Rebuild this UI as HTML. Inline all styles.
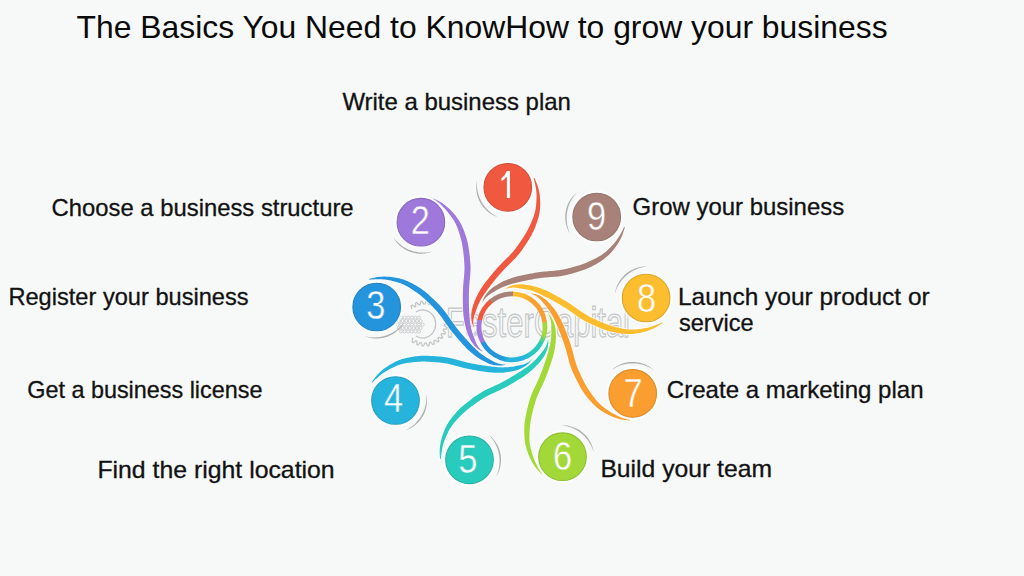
<!DOCTYPE html>
<html><head><meta charset="utf-8"><style>
html,body{margin:0;padding:0;background:#f7f9f9;}
body{width:1024px;height:576px;overflow:hidden;}
svg{display:block;}
</style></head><body>
<svg width="1024" height="576" viewBox="0 0 1024 576">
<defs><linearGradient id="rg4" gradientUnits="userSpaceOnUse" x1="522.42" y1="358.11" x2="500.17" y2="357.61"><stop offset="0" stop-color="#26b4dc"/><stop offset="0.6" stop-color="#26b4dc"/><stop offset="1" stop-color="#2494dc"/></linearGradient><linearGradient id="rg5" gradientUnits="userSpaceOnUse" x1="540.11" y1="344.09" x2="522.74" y2="358.00"><stop offset="0" stop-color="#28cbbc"/><stop offset="0.5" stop-color="#28cbbc"/><stop offset="1" stop-color="#26b4dc"/></linearGradient><linearGradient id="rg6" gradientUnits="userSpaceOnUse" x1="544.65" y1="321.98" x2="540.29" y2="343.80"><stop offset="0" stop-color="#a2d939"/><stop offset="0.55" stop-color="#a2d939"/><stop offset="1" stop-color="#28cbbc"/></linearGradient><linearGradient id="rg8" gradientUnits="userSpaceOnUse" x1="512.92" y1="293.81" x2="533.65" y2="301.89"><stop offset="0" stop-color="#fcbd2e"/><stop offset="0.35" stop-color="#fcbd2e"/><stop offset="1" stop-color="#fa9e30"/></linearGradient></defs>
<g fill="none" stroke="#c2c5c5" stroke-width="1.25">
<path d="M411.95,309.01 L410.99,305.90 L412.08,305.08 L414.79,306.89 L415.81,306.30 L415.62,303.05 L416.88,302.52 L419.08,304.92 L420.21,304.60 L420.81,301.39 L422.16,301.18 L423.71,304.04 L424.89,304.00 L426.24,301.03 L427.60,301.15 L428.42,304.30 L429.58,304.55 L431.60,301.99 L432.89,302.43 L432.93,305.69 L434.00,306.20 L436.57,304.20 L437.72,304.94 L436.98,308.11 L437.89,308.87 L440.87,307.55 L441.80,308.54 L440.32,311.44 L441.02,312.39 L444.23,311.82 L444.90,313.01 L442.77,315.47 L443.22,316.56 L446.47,316.78 L446.84,318.10 L444.18,319.97 L444.36,321.14 L447.46,322.14 L447.50,323.50 L444.46,324.68 L444.36,325.86 L447.13,327.57 L446.84,328.90 L443.61,329.32 L443.22,330.44 L445.50,332.76 L444.90,333.99 L441.67,333.62 L441.02,334.61 L442.68,337.42 L441.80,338.46 L438.75,337.33 L437.89,338.13 L438.82,341.26 L437.72,342.06 L435.03,340.22 L434.00,340.80 L434.15,344.05 L432.89,344.57 L430.72,342.14 L429.58,342.45 L428.95,345.65 L427.60,345.85 L426.07,342.97 L424.89,343.00 L423.51,345.95 L422.16,345.82 L421.37,342.66 L420.21,342.40 L418.17,344.94 L416.88,344.48 L416.87,341.23 L415.81,340.70 L413.22,342.67 L412.08,341.92 L412.85,338.76 L411.95,337.99"/>
<path d="M416,312 A13,14 0 1 1 416,336"/>
<circle cx="401.0" cy="317.5" r="1.5" stroke-width="0.8"/>
<circle cx="404.6" cy="317.5" r="1.5" stroke-width="0.8"/>
<circle cx="408.2" cy="317.5" r="1.5" stroke-width="0.8"/>
<circle cx="411.8" cy="317.5" r="1.5" stroke-width="0.8"/>
<circle cx="415.4" cy="317.5" r="1.5" stroke-width="0.8"/>
<circle cx="419.0" cy="317.5" r="1.5" stroke-width="0.8"/>
<circle cx="399.0" cy="321" r="1.5" stroke-width="0.8"/>
<circle cx="402.6" cy="321" r="1.5" stroke-width="0.8"/>
<circle cx="406.2" cy="321" r="1.5" stroke-width="0.8"/>
<circle cx="409.8" cy="321" r="1.5" stroke-width="0.8"/>
<circle cx="413.4" cy="321" r="1.5" stroke-width="0.8"/>
<circle cx="417.0" cy="321" r="1.5" stroke-width="0.8"/>
<circle cx="420.6" cy="321" r="1.5" stroke-width="0.8"/>
<circle cx="397.5" cy="324.5" r="1.5" stroke-width="0.8"/>
<circle cx="401.1" cy="324.5" r="1.5" stroke-width="0.8"/>
<circle cx="404.7" cy="324.5" r="1.5" stroke-width="0.8"/>
<circle cx="408.3" cy="324.5" r="1.5" stroke-width="0.8"/>
<circle cx="411.9" cy="324.5" r="1.5" stroke-width="0.8"/>
<circle cx="415.5" cy="324.5" r="1.5" stroke-width="0.8"/>
<circle cx="419.1" cy="324.5" r="1.5" stroke-width="0.8"/>
<circle cx="422.7" cy="324.5" r="1.5" stroke-width="0.8"/>
<circle cx="399.0" cy="328" r="1.5" stroke-width="0.8"/>
<circle cx="402.6" cy="328" r="1.5" stroke-width="0.8"/>
<circle cx="406.2" cy="328" r="1.5" stroke-width="0.8"/>
<circle cx="409.8" cy="328" r="1.5" stroke-width="0.8"/>
<circle cx="413.4" cy="328" r="1.5" stroke-width="0.8"/>
<circle cx="417.0" cy="328" r="1.5" stroke-width="0.8"/>
<circle cx="420.6" cy="328" r="1.5" stroke-width="0.8"/>
<circle cx="401.0" cy="331.5" r="1.5" stroke-width="0.8"/>
<circle cx="404.6" cy="331.5" r="1.5" stroke-width="0.8"/>
<circle cx="408.2" cy="331.5" r="1.5" stroke-width="0.8"/>
<circle cx="411.8" cy="331.5" r="1.5" stroke-width="0.8"/>
<circle cx="415.4" cy="331.5" r="1.5" stroke-width="0.8"/>
<circle cx="419.0" cy="331.5" r="1.5" stroke-width="0.8"/>
<text x="446" y="337" font-family="Liberation Sans" font-size="42.5" textLength="184" lengthAdjust="spacingAndGlyphs">FasterCapital</text>
</g>
<path d="M533.62,178.13 L533.96,179.40 L534.29,180.69 L534.62,182.01 L534.94,183.39 L535.25,184.80 L535.52,186.26 L535.80,187.72 L536.05,189.19 L536.24,190.67 L536.38,192.14 L536.48,193.61 L536.53,195.08 L536.55,196.56 L536.53,198.03 L536.48,199.51 L536.40,200.98 L536.30,202.46 L536.18,203.93 L536.05,205.38 L535.89,206.83 L535.69,208.26 L535.45,209.67 L535.17,211.06 L534.84,212.43 L534.47,213.78 L534.06,215.12 L533.61,216.44 L533.14,217.75 L532.63,219.04 L532.11,220.31 L531.59,221.55 L531.06,222.77 L530.54,223.95 L530.02,225.09 L529.49,226.21 L528.97,227.32 L528.45,228.43 L527.89,229.54 L527.30,230.68 L526.66,231.85 L525.96,233.05 L525.22,234.30 L524.43,235.58 L523.60,236.89 L522.74,238.23 L521.84,239.58 L520.93,240.93 L520.00,242.29 L519.06,243.65 L518.11,245.00 L517.14,246.34 L516.16,247.67 L515.15,249.00 L514.10,250.33 L513.00,251.65 L511.84,252.97 L510.63,254.29 L509.35,255.63 L508.02,256.98 L506.65,258.34 L505.26,259.71 L503.85,261.09 L502.46,262.48 L501.09,263.88 L499.74,265.29 L498.44,266.69 L497.17,268.10 L495.93,269.50 L494.71,270.90 L493.52,272.31 L492.34,273.72 L491.17,275.14 L490.00,276.56 L488.85,278.00 L487.70,279.44 L486.56,280.89 L485.44,282.35 L484.34,283.81 L483.27,285.27 L482.23,286.75 L481.26,288.25 L480.32,289.76 L479.41,291.28 L478.54,292.81 L477.70,294.36 L476.90,295.93 L476.13,297.53 L475.41,299.15 L474.73,300.80 L474.09,302.47 L473.50,304.14 L472.96,305.81 L472.47,307.46 L472.04,309.07 L471.66,310.63 L471.46,312.16 L471.32,313.62 L471.24,315.00 L471.21,316.31 L471.23,317.55 L471.29,318.73 L471.40,319.84 L471.56,320.90 L471.75,321.90 L471.98,322.85 L472.24,323.74 L472.51,324.57 L472.81,325.34 L473.11,326.07 L473.41,326.74 L473.70,327.38 L474.00,328.00 L474.00,328.00 L473.86,327.33 L473.73,326.64 L473.60,325.92 L473.49,325.17 L473.40,324.37 L473.33,323.53 L473.30,322.66 L473.31,321.75 L473.36,320.81 L473.45,319.83 L473.60,318.82 L473.80,317.77 L474.06,316.66 L474.38,315.51 L474.76,314.30 L475.21,313.03 L475.72,311.70 L476.17,310.28 L476.68,308.81 L477.25,307.31 L477.86,305.79 L478.52,304.27 L479.22,302.77 L479.96,301.29 L480.73,299.84 L481.53,298.41 L482.37,297.02 L483.25,295.64 L484.16,294.27 L485.11,292.91 L486.10,291.55 L487.11,290.19 L488.13,288.80 L489.16,287.40 L490.22,285.99 L491.31,284.58 L492.42,283.17 L493.54,281.77 L494.68,280.36 L495.82,278.97 L496.97,277.58 L498.13,276.20 L499.29,274.84 L500.47,273.48 L501.67,272.13 L502.89,270.79 L504.14,269.44 L505.43,268.10 L506.76,266.76 L508.12,265.40 L509.51,264.04 L510.91,262.66 L512.32,261.27 L513.71,259.87 L515.06,258.46 L516.37,257.03 L517.63,255.60 L518.82,254.17 L519.96,252.74 L521.04,251.32 L522.07,249.89 L523.06,248.47 L524.03,247.06 L524.97,245.65 L525.90,244.24 L526.81,242.83 L527.71,241.43 L528.58,240.03 L529.43,238.65 L530.24,237.29 L531.01,235.95 L531.73,234.64 L532.41,233.37 L533.04,232.12 L533.62,230.89 L534.17,229.68 L534.69,228.48 L535.16,227.26 L535.63,226.03 L536.09,224.77 L536.55,223.48 L537.01,222.15 L537.47,220.78 L537.91,219.37 L538.34,217.92 L538.73,216.45 L539.08,214.94 L539.39,213.42 L539.65,211.88 L539.86,210.33 L540.01,208.77 L540.13,207.22 L540.20,205.66 L540.24,204.11 L540.23,202.56 L540.18,201.01 L540.10,199.47 L539.99,197.92 L539.84,196.38 L539.66,194.84 L539.45,193.30 L539.18,191.76 L538.86,190.22 L538.50,188.70 L538.08,187.18 L537.62,185.70 L537.10,184.27 L536.55,182.88 L536.00,181.56 L535.45,180.29 L534.91,179.06 L534.38,177.87Z" fill="#f0583f" stroke="#ffffff" stroke-opacity="0.7" stroke-width="1.6" paint-order="stroke" transform="rotate(0 512.0 326.8)"/>
<path d="M533.62,178.13 L533.96,179.40 L534.29,180.69 L534.62,182.01 L534.94,183.39 L535.25,184.80 L535.52,186.26 L535.80,187.72 L536.05,189.19 L536.24,190.67 L536.38,192.14 L536.48,193.61 L536.53,195.08 L536.55,196.56 L536.53,198.03 L536.48,199.51 L536.40,200.98 L536.30,202.46 L536.18,203.93 L536.05,205.38 L535.89,206.83 L535.69,208.26 L535.45,209.67 L535.17,211.06 L534.84,212.43 L534.47,213.78 L534.06,215.12 L533.61,216.44 L533.14,217.75 L532.63,219.04 L532.11,220.31 L531.59,221.55 L531.06,222.77 L530.54,223.95 L530.02,225.09 L529.49,226.21 L528.97,227.32 L528.45,228.43 L527.89,229.54 L527.30,230.68 L526.66,231.85 L525.96,233.05 L525.22,234.30 L524.43,235.58 L523.60,236.89 L522.74,238.23 L521.84,239.58 L520.93,240.93 L520.00,242.29 L519.06,243.65 L518.11,245.00 L517.14,246.34 L516.16,247.67 L515.15,249.00 L514.10,250.33 L513.00,251.65 L511.84,252.97 L510.63,254.29 L509.35,255.63 L508.02,256.98 L506.65,258.34 L505.26,259.71 L503.85,261.09 L502.46,262.48 L501.09,263.88 L499.74,265.29 L498.44,266.69 L497.17,268.10 L495.93,269.50 L494.71,270.90 L493.52,272.31 L492.34,273.72 L491.17,275.14 L490.00,276.56 L488.85,278.00 L487.70,279.44 L486.56,280.89 L485.44,282.35 L484.34,283.81 L483.27,285.27 L482.23,286.75 L481.26,288.25 L480.32,289.76 L479.41,291.28 L478.54,292.81 L477.70,294.36 L476.90,295.93 L476.13,297.53 L475.41,299.15 L474.73,300.80 L474.09,302.47 L473.50,304.14 L472.96,305.81 L472.47,307.46 L472.04,309.07 L471.66,310.63 L471.46,312.16 L471.32,313.62 L471.24,315.00 L471.21,316.31 L471.23,317.55 L471.29,318.73 L471.40,319.84 L471.56,320.90 L471.75,321.90 L471.98,322.85 L472.24,323.74 L472.51,324.57 L472.81,325.34 L473.11,326.07 L473.41,326.74 L473.70,327.38 L474.00,328.00 L474.00,328.00 L473.86,327.33 L473.73,326.64 L473.60,325.92 L473.49,325.17 L473.40,324.37 L473.33,323.53 L473.30,322.66 L473.31,321.75 L473.36,320.81 L473.45,319.83 L473.60,318.82 L473.80,317.77 L474.06,316.66 L474.38,315.51 L474.76,314.30 L475.21,313.03 L475.72,311.70 L476.17,310.28 L476.68,308.81 L477.25,307.31 L477.86,305.79 L478.52,304.27 L479.22,302.77 L479.96,301.29 L480.73,299.84 L481.53,298.41 L482.37,297.02 L483.25,295.64 L484.16,294.27 L485.11,292.91 L486.10,291.55 L487.11,290.19 L488.13,288.80 L489.16,287.40 L490.22,285.99 L491.31,284.58 L492.42,283.17 L493.54,281.77 L494.68,280.36 L495.82,278.97 L496.97,277.58 L498.13,276.20 L499.29,274.84 L500.47,273.48 L501.67,272.13 L502.89,270.79 L504.14,269.44 L505.43,268.10 L506.76,266.76 L508.12,265.40 L509.51,264.04 L510.91,262.66 L512.32,261.27 L513.71,259.87 L515.06,258.46 L516.37,257.03 L517.63,255.60 L518.82,254.17 L519.96,252.74 L521.04,251.32 L522.07,249.89 L523.06,248.47 L524.03,247.06 L524.97,245.65 L525.90,244.24 L526.81,242.83 L527.71,241.43 L528.58,240.03 L529.43,238.65 L530.24,237.29 L531.01,235.95 L531.73,234.64 L532.41,233.37 L533.04,232.12 L533.62,230.89 L534.17,229.68 L534.69,228.48 L535.16,227.26 L535.63,226.03 L536.09,224.77 L536.55,223.48 L537.01,222.15 L537.47,220.78 L537.91,219.37 L538.34,217.92 L538.73,216.45 L539.08,214.94 L539.39,213.42 L539.65,211.88 L539.86,210.33 L540.01,208.77 L540.13,207.22 L540.20,205.66 L540.24,204.11 L540.23,202.56 L540.18,201.01 L540.10,199.47 L539.99,197.92 L539.84,196.38 L539.66,194.84 L539.45,193.30 L539.18,191.76 L538.86,190.22 L538.50,188.70 L538.08,187.18 L537.62,185.70 L537.10,184.27 L536.55,182.88 L536.00,181.56 L535.45,180.29 L534.91,179.06 L534.38,177.87Z" fill="#9e78da" stroke="#ffffff" stroke-opacity="0.7" stroke-width="1.6" paint-order="stroke" transform="rotate(-40 512.0 326.8)"/>
<path d="M533.62,178.13 L533.96,179.40 L534.29,180.69 L534.62,182.01 L534.94,183.39 L535.25,184.80 L535.52,186.26 L535.80,187.72 L536.05,189.19 L536.24,190.67 L536.38,192.14 L536.48,193.61 L536.53,195.08 L536.55,196.56 L536.53,198.03 L536.48,199.51 L536.40,200.98 L536.30,202.46 L536.18,203.93 L536.05,205.38 L535.89,206.83 L535.69,208.26 L535.45,209.67 L535.17,211.06 L534.84,212.43 L534.47,213.78 L534.06,215.12 L533.61,216.44 L533.14,217.75 L532.63,219.04 L532.11,220.31 L531.59,221.55 L531.06,222.77 L530.54,223.95 L530.02,225.09 L529.49,226.21 L528.97,227.32 L528.45,228.43 L527.89,229.54 L527.30,230.68 L526.66,231.85 L525.96,233.05 L525.22,234.30 L524.43,235.58 L523.60,236.89 L522.74,238.23 L521.84,239.58 L520.93,240.93 L520.00,242.29 L519.06,243.65 L518.11,245.00 L517.14,246.34 L516.16,247.67 L515.15,249.00 L514.10,250.33 L513.00,251.65 L511.84,252.97 L510.63,254.29 L509.35,255.63 L508.02,256.98 L506.65,258.34 L505.26,259.71 L503.85,261.09 L502.46,262.48 L501.09,263.88 L499.74,265.29 L498.44,266.69 L497.17,268.10 L495.93,269.50 L494.71,270.90 L493.52,272.31 L492.34,273.72 L491.17,275.14 L490.00,276.56 L488.85,278.00 L487.70,279.44 L486.56,280.89 L485.44,282.35 L484.34,283.81 L483.27,285.27 L482.23,286.75 L481.26,288.25 L480.32,289.76 L479.41,291.28 L478.54,292.81 L477.70,294.36 L476.90,295.93 L476.13,297.53 L475.41,299.15 L474.73,300.80 L474.09,302.47 L473.50,304.14 L472.96,305.81 L472.47,307.46 L472.04,309.07 L471.66,310.63 L471.46,312.16 L471.32,313.62 L471.24,315.00 L471.21,316.31 L471.23,317.55 L471.29,318.73 L471.40,319.84 L471.56,320.90 L471.75,321.90 L471.98,322.85 L472.24,323.74 L472.51,324.57 L472.81,325.34 L473.11,326.07 L473.41,326.74 L473.70,327.38 L474.00,328.00 L474.00,328.00 L473.86,327.33 L473.73,326.64 L473.60,325.92 L473.49,325.17 L473.40,324.37 L473.33,323.53 L473.30,322.66 L473.31,321.75 L473.36,320.81 L473.45,319.83 L473.60,318.82 L473.80,317.77 L474.06,316.66 L474.38,315.51 L474.76,314.30 L475.21,313.03 L475.72,311.70 L476.17,310.28 L476.68,308.81 L477.25,307.31 L477.86,305.79 L478.52,304.27 L479.22,302.77 L479.96,301.29 L480.73,299.84 L481.53,298.41 L482.37,297.02 L483.25,295.64 L484.16,294.27 L485.11,292.91 L486.10,291.55 L487.11,290.19 L488.13,288.80 L489.16,287.40 L490.22,285.99 L491.31,284.58 L492.42,283.17 L493.54,281.77 L494.68,280.36 L495.82,278.97 L496.97,277.58 L498.13,276.20 L499.29,274.84 L500.47,273.48 L501.67,272.13 L502.89,270.79 L504.14,269.44 L505.43,268.10 L506.76,266.76 L508.12,265.40 L509.51,264.04 L510.91,262.66 L512.32,261.27 L513.71,259.87 L515.06,258.46 L516.37,257.03 L517.63,255.60 L518.82,254.17 L519.96,252.74 L521.04,251.32 L522.07,249.89 L523.06,248.47 L524.03,247.06 L524.97,245.65 L525.90,244.24 L526.81,242.83 L527.71,241.43 L528.58,240.03 L529.43,238.65 L530.24,237.29 L531.01,235.95 L531.73,234.64 L532.41,233.37 L533.04,232.12 L533.62,230.89 L534.17,229.68 L534.69,228.48 L535.16,227.26 L535.63,226.03 L536.09,224.77 L536.55,223.48 L537.01,222.15 L537.47,220.78 L537.91,219.37 L538.34,217.92 L538.73,216.45 L539.08,214.94 L539.39,213.42 L539.65,211.88 L539.86,210.33 L540.01,208.77 L540.13,207.22 L540.20,205.66 L540.24,204.11 L540.23,202.56 L540.18,201.01 L540.10,199.47 L539.99,197.92 L539.84,196.38 L539.66,194.84 L539.45,193.30 L539.18,191.76 L538.86,190.22 L538.50,188.70 L538.08,187.18 L537.62,185.70 L537.10,184.27 L536.55,182.88 L536.00,181.56 L535.45,180.29 L534.91,179.06 L534.38,177.87Z" fill="#2494dc" stroke="#ffffff" stroke-opacity="0.7" stroke-width="1.6" paint-order="stroke" transform="rotate(-80 512.0 326.8)"/>
<path d="M533.62,178.13 L533.96,179.40 L534.29,180.69 L534.62,182.01 L534.94,183.39 L535.25,184.80 L535.52,186.26 L535.80,187.72 L536.05,189.19 L536.24,190.67 L536.38,192.14 L536.48,193.61 L536.53,195.08 L536.55,196.56 L536.53,198.03 L536.48,199.51 L536.40,200.98 L536.30,202.46 L536.18,203.93 L536.05,205.38 L535.89,206.83 L535.69,208.26 L535.45,209.67 L535.17,211.06 L534.84,212.43 L534.47,213.78 L534.06,215.12 L533.61,216.44 L533.14,217.75 L532.63,219.04 L532.11,220.31 L531.59,221.55 L531.06,222.77 L530.54,223.95 L530.02,225.09 L529.49,226.21 L528.97,227.32 L528.45,228.43 L527.89,229.54 L527.30,230.68 L526.66,231.85 L525.96,233.05 L525.22,234.30 L524.43,235.58 L523.60,236.89 L522.74,238.23 L521.84,239.58 L520.93,240.93 L520.00,242.29 L519.06,243.65 L518.11,245.00 L517.14,246.34 L516.16,247.67 L515.15,249.00 L514.10,250.33 L513.00,251.65 L511.84,252.97 L510.63,254.29 L509.35,255.63 L508.02,256.98 L506.65,258.34 L505.26,259.71 L503.85,261.09 L502.46,262.48 L501.09,263.88 L499.74,265.29 L498.44,266.69 L497.17,268.10 L495.93,269.50 L494.71,270.90 L493.52,272.31 L492.34,273.72 L491.17,275.14 L490.00,276.56 L488.85,278.00 L487.70,279.44 L486.56,280.89 L485.44,282.35 L484.34,283.81 L483.27,285.27 L482.23,286.75 L481.26,288.25 L480.32,289.76 L479.41,291.28 L478.54,292.81 L477.70,294.36 L476.90,295.93 L476.13,297.53 L475.41,299.15 L474.73,300.80 L474.09,302.47 L473.50,304.14 L472.96,305.81 L472.47,307.46 L472.04,309.07 L471.66,310.63 L471.46,312.16 L471.32,313.62 L471.24,315.00 L471.21,316.31 L471.23,317.55 L471.29,318.73 L471.40,319.84 L471.56,320.90 L471.75,321.90 L471.98,322.85 L472.24,323.74 L472.51,324.57 L472.81,325.34 L473.11,326.07 L473.41,326.74 L473.70,327.38 L474.00,328.00 L474.00,328.00 L473.86,327.33 L473.73,326.64 L473.60,325.92 L473.49,325.17 L473.40,324.37 L473.33,323.53 L473.30,322.66 L473.31,321.75 L473.36,320.81 L473.45,319.83 L473.60,318.82 L473.80,317.77 L474.06,316.66 L474.38,315.51 L474.76,314.30 L475.21,313.03 L475.72,311.70 L476.17,310.28 L476.68,308.81 L477.25,307.31 L477.86,305.79 L478.52,304.27 L479.22,302.77 L479.96,301.29 L480.73,299.84 L481.53,298.41 L482.37,297.02 L483.25,295.64 L484.16,294.27 L485.11,292.91 L486.10,291.55 L487.11,290.19 L488.13,288.80 L489.16,287.40 L490.22,285.99 L491.31,284.58 L492.42,283.17 L493.54,281.77 L494.68,280.36 L495.82,278.97 L496.97,277.58 L498.13,276.20 L499.29,274.84 L500.47,273.48 L501.67,272.13 L502.89,270.79 L504.14,269.44 L505.43,268.10 L506.76,266.76 L508.12,265.40 L509.51,264.04 L510.91,262.66 L512.32,261.27 L513.71,259.87 L515.06,258.46 L516.37,257.03 L517.63,255.60 L518.82,254.17 L519.96,252.74 L521.04,251.32 L522.07,249.89 L523.06,248.47 L524.03,247.06 L524.97,245.65 L525.90,244.24 L526.81,242.83 L527.71,241.43 L528.58,240.03 L529.43,238.65 L530.24,237.29 L531.01,235.95 L531.73,234.64 L532.41,233.37 L533.04,232.12 L533.62,230.89 L534.17,229.68 L534.69,228.48 L535.16,227.26 L535.63,226.03 L536.09,224.77 L536.55,223.48 L537.01,222.15 L537.47,220.78 L537.91,219.37 L538.34,217.92 L538.73,216.45 L539.08,214.94 L539.39,213.42 L539.65,211.88 L539.86,210.33 L540.01,208.77 L540.13,207.22 L540.20,205.66 L540.24,204.11 L540.23,202.56 L540.18,201.01 L540.10,199.47 L539.99,197.92 L539.84,196.38 L539.66,194.84 L539.45,193.30 L539.18,191.76 L538.86,190.22 L538.50,188.70 L538.08,187.18 L537.62,185.70 L537.10,184.27 L536.55,182.88 L536.00,181.56 L535.45,180.29 L534.91,179.06 L534.38,177.87Z" fill="#26b4dc" stroke="#ffffff" stroke-opacity="0.7" stroke-width="1.6" paint-order="stroke" transform="rotate(-120 512.0 326.8)"/>
<path d="M533.62,178.13 L533.96,179.40 L534.29,180.69 L534.62,182.01 L534.94,183.39 L535.25,184.80 L535.52,186.26 L535.80,187.72 L536.05,189.19 L536.24,190.67 L536.38,192.14 L536.48,193.61 L536.53,195.08 L536.55,196.56 L536.53,198.03 L536.48,199.51 L536.40,200.98 L536.30,202.46 L536.18,203.93 L536.05,205.38 L535.89,206.83 L535.69,208.26 L535.45,209.67 L535.17,211.06 L534.84,212.43 L534.47,213.78 L534.06,215.12 L533.61,216.44 L533.14,217.75 L532.63,219.04 L532.11,220.31 L531.59,221.55 L531.06,222.77 L530.54,223.95 L530.02,225.09 L529.49,226.21 L528.97,227.32 L528.45,228.43 L527.89,229.54 L527.30,230.68 L526.66,231.85 L525.96,233.05 L525.22,234.30 L524.43,235.58 L523.60,236.89 L522.74,238.23 L521.84,239.58 L520.93,240.93 L520.00,242.29 L519.06,243.65 L518.11,245.00 L517.14,246.34 L516.16,247.67 L515.15,249.00 L514.10,250.33 L513.00,251.65 L511.84,252.97 L510.63,254.29 L509.35,255.63 L508.02,256.98 L506.65,258.34 L505.26,259.71 L503.85,261.09 L502.46,262.48 L501.09,263.88 L499.74,265.29 L498.44,266.69 L497.17,268.10 L495.93,269.50 L494.71,270.90 L493.52,272.31 L492.34,273.72 L491.17,275.14 L490.00,276.56 L488.85,278.00 L487.70,279.44 L486.56,280.89 L485.44,282.35 L484.34,283.81 L483.27,285.27 L482.23,286.75 L481.26,288.25 L480.32,289.76 L479.41,291.28 L478.54,292.81 L477.70,294.36 L476.90,295.93 L476.13,297.53 L475.41,299.15 L474.73,300.80 L474.09,302.47 L473.50,304.14 L472.96,305.81 L472.47,307.46 L472.04,309.07 L471.66,310.63 L471.46,312.16 L471.32,313.62 L471.24,315.00 L471.21,316.31 L471.23,317.55 L471.29,318.73 L471.40,319.84 L471.56,320.90 L471.75,321.90 L471.98,322.85 L472.24,323.74 L472.51,324.57 L472.81,325.34 L473.11,326.07 L473.41,326.74 L473.70,327.38 L474.00,328.00 L474.00,328.00 L473.86,327.33 L473.73,326.64 L473.60,325.92 L473.49,325.17 L473.40,324.37 L473.33,323.53 L473.30,322.66 L473.31,321.75 L473.36,320.81 L473.45,319.83 L473.60,318.82 L473.80,317.77 L474.06,316.66 L474.38,315.51 L474.76,314.30 L475.21,313.03 L475.72,311.70 L476.17,310.28 L476.68,308.81 L477.25,307.31 L477.86,305.79 L478.52,304.27 L479.22,302.77 L479.96,301.29 L480.73,299.84 L481.53,298.41 L482.37,297.02 L483.25,295.64 L484.16,294.27 L485.11,292.91 L486.10,291.55 L487.11,290.19 L488.13,288.80 L489.16,287.40 L490.22,285.99 L491.31,284.58 L492.42,283.17 L493.54,281.77 L494.68,280.36 L495.82,278.97 L496.97,277.58 L498.13,276.20 L499.29,274.84 L500.47,273.48 L501.67,272.13 L502.89,270.79 L504.14,269.44 L505.43,268.10 L506.76,266.76 L508.12,265.40 L509.51,264.04 L510.91,262.66 L512.32,261.27 L513.71,259.87 L515.06,258.46 L516.37,257.03 L517.63,255.60 L518.82,254.17 L519.96,252.74 L521.04,251.32 L522.07,249.89 L523.06,248.47 L524.03,247.06 L524.97,245.65 L525.90,244.24 L526.81,242.83 L527.71,241.43 L528.58,240.03 L529.43,238.65 L530.24,237.29 L531.01,235.95 L531.73,234.64 L532.41,233.37 L533.04,232.12 L533.62,230.89 L534.17,229.68 L534.69,228.48 L535.16,227.26 L535.63,226.03 L536.09,224.77 L536.55,223.48 L537.01,222.15 L537.47,220.78 L537.91,219.37 L538.34,217.92 L538.73,216.45 L539.08,214.94 L539.39,213.42 L539.65,211.88 L539.86,210.33 L540.01,208.77 L540.13,207.22 L540.20,205.66 L540.24,204.11 L540.23,202.56 L540.18,201.01 L540.10,199.47 L539.99,197.92 L539.84,196.38 L539.66,194.84 L539.45,193.30 L539.18,191.76 L538.86,190.22 L538.50,188.70 L538.08,187.18 L537.62,185.70 L537.10,184.27 L536.55,182.88 L536.00,181.56 L535.45,180.29 L534.91,179.06 L534.38,177.87Z" fill="#28cbbc" stroke="#ffffff" stroke-opacity="0.7" stroke-width="1.6" paint-order="stroke" transform="rotate(-160 512.0 326.8)"/>
<path d="M533.62,178.13 L533.96,179.40 L534.29,180.69 L534.62,182.01 L534.94,183.39 L535.25,184.80 L535.52,186.26 L535.80,187.72 L536.05,189.19 L536.24,190.67 L536.38,192.14 L536.48,193.61 L536.53,195.08 L536.55,196.56 L536.53,198.03 L536.48,199.51 L536.40,200.98 L536.30,202.46 L536.18,203.93 L536.05,205.38 L535.89,206.83 L535.69,208.26 L535.45,209.67 L535.17,211.06 L534.84,212.43 L534.47,213.78 L534.06,215.12 L533.61,216.44 L533.14,217.75 L532.63,219.04 L532.11,220.31 L531.59,221.55 L531.06,222.77 L530.54,223.95 L530.02,225.09 L529.49,226.21 L528.97,227.32 L528.45,228.43 L527.89,229.54 L527.30,230.68 L526.66,231.85 L525.96,233.05 L525.22,234.30 L524.43,235.58 L523.60,236.89 L522.74,238.23 L521.84,239.58 L520.93,240.93 L520.00,242.29 L519.06,243.65 L518.11,245.00 L517.14,246.34 L516.16,247.67 L515.15,249.00 L514.10,250.33 L513.00,251.65 L511.84,252.97 L510.63,254.29 L509.35,255.63 L508.02,256.98 L506.65,258.34 L505.26,259.71 L503.85,261.09 L502.46,262.48 L501.09,263.88 L499.74,265.29 L498.44,266.69 L497.17,268.10 L495.93,269.50 L494.71,270.90 L493.52,272.31 L492.34,273.72 L491.17,275.14 L490.00,276.56 L488.85,278.00 L487.70,279.44 L486.56,280.89 L485.44,282.35 L484.34,283.81 L483.27,285.27 L482.23,286.75 L481.26,288.25 L480.32,289.76 L479.41,291.28 L478.54,292.81 L477.70,294.36 L476.90,295.93 L476.13,297.53 L475.41,299.15 L474.73,300.80 L474.09,302.47 L473.50,304.14 L472.96,305.81 L472.47,307.46 L472.04,309.07 L471.66,310.63 L471.46,312.16 L471.32,313.62 L471.24,315.00 L471.21,316.31 L471.23,317.55 L471.29,318.73 L471.40,319.84 L471.56,320.90 L471.75,321.90 L471.98,322.85 L472.24,323.74 L472.51,324.57 L472.81,325.34 L473.11,326.07 L473.41,326.74 L473.70,327.38 L474.00,328.00 L474.00,328.00 L473.86,327.33 L473.73,326.64 L473.60,325.92 L473.49,325.17 L473.40,324.37 L473.33,323.53 L473.30,322.66 L473.31,321.75 L473.36,320.81 L473.45,319.83 L473.60,318.82 L473.80,317.77 L474.06,316.66 L474.38,315.51 L474.76,314.30 L475.21,313.03 L475.72,311.70 L476.17,310.28 L476.68,308.81 L477.25,307.31 L477.86,305.79 L478.52,304.27 L479.22,302.77 L479.96,301.29 L480.73,299.84 L481.53,298.41 L482.37,297.02 L483.25,295.64 L484.16,294.27 L485.11,292.91 L486.10,291.55 L487.11,290.19 L488.13,288.80 L489.16,287.40 L490.22,285.99 L491.31,284.58 L492.42,283.17 L493.54,281.77 L494.68,280.36 L495.82,278.97 L496.97,277.58 L498.13,276.20 L499.29,274.84 L500.47,273.48 L501.67,272.13 L502.89,270.79 L504.14,269.44 L505.43,268.10 L506.76,266.76 L508.12,265.40 L509.51,264.04 L510.91,262.66 L512.32,261.27 L513.71,259.87 L515.06,258.46 L516.37,257.03 L517.63,255.60 L518.82,254.17 L519.96,252.74 L521.04,251.32 L522.07,249.89 L523.06,248.47 L524.03,247.06 L524.97,245.65 L525.90,244.24 L526.81,242.83 L527.71,241.43 L528.58,240.03 L529.43,238.65 L530.24,237.29 L531.01,235.95 L531.73,234.64 L532.41,233.37 L533.04,232.12 L533.62,230.89 L534.17,229.68 L534.69,228.48 L535.16,227.26 L535.63,226.03 L536.09,224.77 L536.55,223.48 L537.01,222.15 L537.47,220.78 L537.91,219.37 L538.34,217.92 L538.73,216.45 L539.08,214.94 L539.39,213.42 L539.65,211.88 L539.86,210.33 L540.01,208.77 L540.13,207.22 L540.20,205.66 L540.24,204.11 L540.23,202.56 L540.18,201.01 L540.10,199.47 L539.99,197.92 L539.84,196.38 L539.66,194.84 L539.45,193.30 L539.18,191.76 L538.86,190.22 L538.50,188.70 L538.08,187.18 L537.62,185.70 L537.10,184.27 L536.55,182.88 L536.00,181.56 L535.45,180.29 L534.91,179.06 L534.38,177.87Z" fill="#a2d939" stroke="#ffffff" stroke-opacity="0.7" stroke-width="1.6" paint-order="stroke" transform="rotate(-200 512.0 326.8)"/>
<path d="M533.62,178.13 L533.96,179.40 L534.29,180.69 L534.62,182.01 L534.94,183.39 L535.25,184.80 L535.52,186.26 L535.80,187.72 L536.05,189.19 L536.24,190.67 L536.38,192.14 L536.48,193.61 L536.53,195.08 L536.55,196.56 L536.53,198.03 L536.48,199.51 L536.40,200.98 L536.30,202.46 L536.18,203.93 L536.05,205.38 L535.89,206.83 L535.69,208.26 L535.45,209.67 L535.17,211.06 L534.84,212.43 L534.47,213.78 L534.06,215.12 L533.61,216.44 L533.14,217.75 L532.63,219.04 L532.11,220.31 L531.59,221.55 L531.06,222.77 L530.54,223.95 L530.02,225.09 L529.49,226.21 L528.97,227.32 L528.45,228.43 L527.89,229.54 L527.30,230.68 L526.66,231.85 L525.96,233.05 L525.22,234.30 L524.43,235.58 L523.60,236.89 L522.74,238.23 L521.84,239.58 L520.93,240.93 L520.00,242.29 L519.06,243.65 L518.11,245.00 L517.14,246.34 L516.16,247.67 L515.15,249.00 L514.10,250.33 L513.00,251.65 L511.84,252.97 L510.63,254.29 L509.35,255.63 L508.02,256.98 L506.65,258.34 L505.26,259.71 L503.85,261.09 L502.46,262.48 L501.09,263.88 L499.74,265.29 L498.44,266.69 L497.17,268.10 L495.93,269.50 L494.71,270.90 L493.52,272.31 L492.34,273.72 L491.17,275.14 L490.00,276.56 L488.85,278.00 L487.70,279.44 L486.56,280.89 L485.44,282.35 L484.34,283.81 L483.27,285.27 L482.23,286.75 L481.26,288.25 L480.32,289.76 L479.41,291.28 L478.54,292.81 L477.70,294.36 L476.90,295.93 L476.13,297.53 L475.41,299.15 L474.73,300.80 L474.09,302.47 L473.50,304.14 L472.96,305.81 L472.47,307.46 L472.04,309.07 L471.66,310.63 L471.46,312.16 L471.32,313.62 L471.24,315.00 L471.21,316.31 L471.23,317.55 L471.29,318.73 L471.40,319.84 L471.56,320.90 L471.75,321.90 L471.98,322.85 L472.24,323.74 L472.51,324.57 L472.81,325.34 L473.11,326.07 L473.41,326.74 L473.70,327.38 L474.00,328.00 L474.00,328.00 L473.86,327.33 L473.73,326.64 L473.60,325.92 L473.49,325.17 L473.40,324.37 L473.33,323.53 L473.30,322.66 L473.31,321.75 L473.36,320.81 L473.45,319.83 L473.60,318.82 L473.80,317.77 L474.06,316.66 L474.38,315.51 L474.76,314.30 L475.21,313.03 L475.72,311.70 L476.17,310.28 L476.68,308.81 L477.25,307.31 L477.86,305.79 L478.52,304.27 L479.22,302.77 L479.96,301.29 L480.73,299.84 L481.53,298.41 L482.37,297.02 L483.25,295.64 L484.16,294.27 L485.11,292.91 L486.10,291.55 L487.11,290.19 L488.13,288.80 L489.16,287.40 L490.22,285.99 L491.31,284.58 L492.42,283.17 L493.54,281.77 L494.68,280.36 L495.82,278.97 L496.97,277.58 L498.13,276.20 L499.29,274.84 L500.47,273.48 L501.67,272.13 L502.89,270.79 L504.14,269.44 L505.43,268.10 L506.76,266.76 L508.12,265.40 L509.51,264.04 L510.91,262.66 L512.32,261.27 L513.71,259.87 L515.06,258.46 L516.37,257.03 L517.63,255.60 L518.82,254.17 L519.96,252.74 L521.04,251.32 L522.07,249.89 L523.06,248.47 L524.03,247.06 L524.97,245.65 L525.90,244.24 L526.81,242.83 L527.71,241.43 L528.58,240.03 L529.43,238.65 L530.24,237.29 L531.01,235.95 L531.73,234.64 L532.41,233.37 L533.04,232.12 L533.62,230.89 L534.17,229.68 L534.69,228.48 L535.16,227.26 L535.63,226.03 L536.09,224.77 L536.55,223.48 L537.01,222.15 L537.47,220.78 L537.91,219.37 L538.34,217.92 L538.73,216.45 L539.08,214.94 L539.39,213.42 L539.65,211.88 L539.86,210.33 L540.01,208.77 L540.13,207.22 L540.20,205.66 L540.24,204.11 L540.23,202.56 L540.18,201.01 L540.10,199.47 L539.99,197.92 L539.84,196.38 L539.66,194.84 L539.45,193.30 L539.18,191.76 L538.86,190.22 L538.50,188.70 L538.08,187.18 L537.62,185.70 L537.10,184.27 L536.55,182.88 L536.00,181.56 L535.45,180.29 L534.91,179.06 L534.38,177.87Z" fill="#fa9e30" stroke="#ffffff" stroke-opacity="0.7" stroke-width="1.6" paint-order="stroke" transform="rotate(-240 512.0 326.8)"/>
<path d="M533.62,178.13 L533.96,179.40 L534.29,180.69 L534.62,182.01 L534.94,183.39 L535.25,184.80 L535.52,186.26 L535.80,187.72 L536.05,189.19 L536.24,190.67 L536.38,192.14 L536.48,193.61 L536.53,195.08 L536.55,196.56 L536.53,198.03 L536.48,199.51 L536.40,200.98 L536.30,202.46 L536.18,203.93 L536.05,205.38 L535.89,206.83 L535.69,208.26 L535.45,209.67 L535.17,211.06 L534.84,212.43 L534.47,213.78 L534.06,215.12 L533.61,216.44 L533.14,217.75 L532.63,219.04 L532.11,220.31 L531.59,221.55 L531.06,222.77 L530.54,223.95 L530.02,225.09 L529.49,226.21 L528.97,227.32 L528.45,228.43 L527.89,229.54 L527.30,230.68 L526.66,231.85 L525.96,233.05 L525.22,234.30 L524.43,235.58 L523.60,236.89 L522.74,238.23 L521.84,239.58 L520.93,240.93 L520.00,242.29 L519.06,243.65 L518.11,245.00 L517.14,246.34 L516.16,247.67 L515.15,249.00 L514.10,250.33 L513.00,251.65 L511.84,252.97 L510.63,254.29 L509.35,255.63 L508.02,256.98 L506.65,258.34 L505.26,259.71 L503.85,261.09 L502.46,262.48 L501.09,263.88 L499.74,265.29 L498.44,266.69 L497.17,268.10 L495.93,269.50 L494.71,270.90 L493.52,272.31 L492.34,273.72 L491.17,275.14 L490.00,276.56 L488.85,278.00 L487.70,279.44 L486.56,280.89 L485.44,282.35 L484.34,283.81 L483.27,285.27 L482.23,286.75 L481.26,288.25 L480.32,289.76 L479.41,291.28 L478.54,292.81 L477.70,294.36 L476.90,295.93 L476.13,297.53 L475.41,299.15 L474.73,300.80 L474.09,302.47 L473.50,304.14 L472.96,305.81 L472.47,307.46 L472.04,309.07 L471.66,310.63 L471.46,312.16 L471.32,313.62 L471.24,315.00 L471.21,316.31 L471.23,317.55 L471.29,318.73 L471.40,319.84 L471.56,320.90 L471.75,321.90 L471.98,322.85 L472.24,323.74 L472.51,324.57 L472.81,325.34 L473.11,326.07 L473.41,326.74 L473.70,327.38 L474.00,328.00 L474.00,328.00 L473.86,327.33 L473.73,326.64 L473.60,325.92 L473.49,325.17 L473.40,324.37 L473.33,323.53 L473.30,322.66 L473.31,321.75 L473.36,320.81 L473.45,319.83 L473.60,318.82 L473.80,317.77 L474.06,316.66 L474.38,315.51 L474.76,314.30 L475.21,313.03 L475.72,311.70 L476.17,310.28 L476.68,308.81 L477.25,307.31 L477.86,305.79 L478.52,304.27 L479.22,302.77 L479.96,301.29 L480.73,299.84 L481.53,298.41 L482.37,297.02 L483.25,295.64 L484.16,294.27 L485.11,292.91 L486.10,291.55 L487.11,290.19 L488.13,288.80 L489.16,287.40 L490.22,285.99 L491.31,284.58 L492.42,283.17 L493.54,281.77 L494.68,280.36 L495.82,278.97 L496.97,277.58 L498.13,276.20 L499.29,274.84 L500.47,273.48 L501.67,272.13 L502.89,270.79 L504.14,269.44 L505.43,268.10 L506.76,266.76 L508.12,265.40 L509.51,264.04 L510.91,262.66 L512.32,261.27 L513.71,259.87 L515.06,258.46 L516.37,257.03 L517.63,255.60 L518.82,254.17 L519.96,252.74 L521.04,251.32 L522.07,249.89 L523.06,248.47 L524.03,247.06 L524.97,245.65 L525.90,244.24 L526.81,242.83 L527.71,241.43 L528.58,240.03 L529.43,238.65 L530.24,237.29 L531.01,235.95 L531.73,234.64 L532.41,233.37 L533.04,232.12 L533.62,230.89 L534.17,229.68 L534.69,228.48 L535.16,227.26 L535.63,226.03 L536.09,224.77 L536.55,223.48 L537.01,222.15 L537.47,220.78 L537.91,219.37 L538.34,217.92 L538.73,216.45 L539.08,214.94 L539.39,213.42 L539.65,211.88 L539.86,210.33 L540.01,208.77 L540.13,207.22 L540.20,205.66 L540.24,204.11 L540.23,202.56 L540.18,201.01 L540.10,199.47 L539.99,197.92 L539.84,196.38 L539.66,194.84 L539.45,193.30 L539.18,191.76 L538.86,190.22 L538.50,188.70 L538.08,187.18 L537.62,185.70 L537.10,184.27 L536.55,182.88 L536.00,181.56 L535.45,180.29 L534.91,179.06 L534.38,177.87Z" fill="#fcbd2e" stroke="#ffffff" stroke-opacity="0.7" stroke-width="1.6" paint-order="stroke" transform="rotate(-280 512.0 326.8)"/>
<path d="M533.62,178.13 L533.96,179.40 L534.29,180.69 L534.62,182.01 L534.94,183.39 L535.25,184.80 L535.52,186.26 L535.80,187.72 L536.05,189.19 L536.24,190.67 L536.38,192.14 L536.48,193.61 L536.53,195.08 L536.55,196.56 L536.53,198.03 L536.48,199.51 L536.40,200.98 L536.30,202.46 L536.18,203.93 L536.05,205.38 L535.89,206.83 L535.69,208.26 L535.45,209.67 L535.17,211.06 L534.84,212.43 L534.47,213.78 L534.06,215.12 L533.61,216.44 L533.14,217.75 L532.63,219.04 L532.11,220.31 L531.59,221.55 L531.06,222.77 L530.54,223.95 L530.02,225.09 L529.49,226.21 L528.97,227.32 L528.45,228.43 L527.89,229.54 L527.30,230.68 L526.66,231.85 L525.96,233.05 L525.22,234.30 L524.43,235.58 L523.60,236.89 L522.74,238.23 L521.84,239.58 L520.93,240.93 L520.00,242.29 L519.06,243.65 L518.11,245.00 L517.14,246.34 L516.16,247.67 L515.15,249.00 L514.10,250.33 L513.00,251.65 L511.84,252.97 L510.63,254.29 L509.35,255.63 L508.02,256.98 L506.65,258.34 L505.26,259.71 L503.85,261.09 L502.46,262.48 L501.09,263.88 L499.74,265.29 L498.44,266.69 L497.17,268.10 L495.93,269.50 L494.71,270.90 L493.52,272.31 L492.34,273.72 L491.17,275.14 L490.00,276.56 L488.85,278.00 L487.70,279.44 L486.56,280.89 L485.44,282.35 L484.34,283.81 L483.27,285.27 L482.23,286.75 L481.26,288.25 L480.32,289.76 L479.41,291.28 L478.54,292.81 L477.70,294.36 L476.90,295.93 L476.13,297.53 L475.41,299.15 L474.73,300.80 L474.09,302.47 L473.50,304.14 L472.96,305.81 L472.47,307.46 L472.04,309.07 L471.66,310.63 L471.46,312.16 L471.32,313.62 L471.24,315.00 L471.21,316.31 L471.23,317.55 L471.29,318.73 L471.40,319.84 L471.56,320.90 L471.75,321.90 L471.98,322.85 L472.24,323.74 L472.51,324.57 L472.81,325.34 L473.11,326.07 L473.41,326.74 L473.70,327.38 L474.00,328.00 L474.00,328.00 L473.86,327.33 L473.73,326.64 L473.60,325.92 L473.49,325.17 L473.40,324.37 L473.33,323.53 L473.30,322.66 L473.31,321.75 L473.36,320.81 L473.45,319.83 L473.60,318.82 L473.80,317.77 L474.06,316.66 L474.38,315.51 L474.76,314.30 L475.21,313.03 L475.72,311.70 L476.17,310.28 L476.68,308.81 L477.25,307.31 L477.86,305.79 L478.52,304.27 L479.22,302.77 L479.96,301.29 L480.73,299.84 L481.53,298.41 L482.37,297.02 L483.25,295.64 L484.16,294.27 L485.11,292.91 L486.10,291.55 L487.11,290.19 L488.13,288.80 L489.16,287.40 L490.22,285.99 L491.31,284.58 L492.42,283.17 L493.54,281.77 L494.68,280.36 L495.82,278.97 L496.97,277.58 L498.13,276.20 L499.29,274.84 L500.47,273.48 L501.67,272.13 L502.89,270.79 L504.14,269.44 L505.43,268.10 L506.76,266.76 L508.12,265.40 L509.51,264.04 L510.91,262.66 L512.32,261.27 L513.71,259.87 L515.06,258.46 L516.37,257.03 L517.63,255.60 L518.82,254.17 L519.96,252.74 L521.04,251.32 L522.07,249.89 L523.06,248.47 L524.03,247.06 L524.97,245.65 L525.90,244.24 L526.81,242.83 L527.71,241.43 L528.58,240.03 L529.43,238.65 L530.24,237.29 L531.01,235.95 L531.73,234.64 L532.41,233.37 L533.04,232.12 L533.62,230.89 L534.17,229.68 L534.69,228.48 L535.16,227.26 L535.63,226.03 L536.09,224.77 L536.55,223.48 L537.01,222.15 L537.47,220.78 L537.91,219.37 L538.34,217.92 L538.73,216.45 L539.08,214.94 L539.39,213.42 L539.65,211.88 L539.86,210.33 L540.01,208.77 L540.13,207.22 L540.20,205.66 L540.24,204.11 L540.23,202.56 L540.18,201.01 L540.10,199.47 L539.99,197.92 L539.84,196.38 L539.66,194.84 L539.45,193.30 L539.18,191.76 L538.86,190.22 L538.50,188.70 L538.08,187.18 L537.62,185.70 L537.10,184.27 L536.55,182.88 L536.00,181.56 L535.45,180.29 L534.91,179.06 L534.38,177.87Z" fill="#a88278" stroke="#ffffff" stroke-opacity="0.7" stroke-width="1.6" paint-order="stroke" transform="rotate(-320 512.0 326.8)"/>
<path d="M479.60,320.56 A33.0,33.0 0 0 1 491.55,300.90" fill="none" stroke="#f0583f" stroke-width="4.7"/>
<path d="M483.17,342.85 A33.0,33.0 0 0 1 479.69,320.11" fill="none" stroke="#9e78da" stroke-width="4.7"/>
<path d="M500.23,357.63 A33.0,33.0 0 0 1 482.94,342.44" fill="none" stroke="#2494dc" stroke-width="4.7"/>
<path d="M522.80,357.98 A33.0,33.0 0 0 1 499.80,357.46" fill="none" stroke="url(#rg4)" stroke-width="4.7"/>
<path d="M540.32,343.75 A33.0,33.0 0 0 1 522.36,358.13" fill="none" stroke="url(#rg5)" stroke-width="4.7"/>
<path d="M544.58,321.58 A33.0,33.0 0 0 1 540.08,344.14" fill="none" stroke="url(#rg6)" stroke-width="4.7"/>
<path d="M533.61,301.86 A33.0,33.0 0 0 1 544.65,322.04" fill="none" stroke="#fa9e30" stroke-width="4.7"/>
<path d="M512.52,293.80 A33.0,33.0 0 0 1 533.95,302.16" fill="none" stroke="url(#rg8)" stroke-width="4.7"/>
<path d="M491.19,301.19 A33.0,33.0 0 0 1 512.98,293.81" fill="none" stroke="#a88278" stroke-width="4.7"/>
<path d="M497.96,217.22 L496.15,216.57 L494.39,215.80 L492.67,214.93 L491.01,213.96 L489.42,212.88 L487.89,211.71 L486.44,210.45 L485.06,209.10 L483.78,207.67 L482.58,206.17 L481.47,204.59 L480.47,202.95 L479.56,201.26 L478.76,199.51 L478.07,197.71 L477.49,195.88 L477.02,194.01 L476.67,192.12 L476.43,190.21 L476.32,188.29 L476.31,186.37 L476.43,184.45 L476.66,182.54 L477.01,180.64 L477.01,180.64 L476.95,182.58 L476.94,184.49 L477.01,186.39 L477.18,188.26 L477.44,190.12 L477.79,191.95 L478.24,193.74 L478.78,195.51 L479.40,197.25 L480.11,198.94 L480.90,200.60 L481.77,202.21 L482.72,203.78 L483.75,205.30 L484.85,206.76 L486.03,208.18 L487.28,209.53 L488.61,210.83 L490.01,212.06 L491.47,213.23 L493.01,214.32 L494.60,215.34 L496.26,216.29 L497.96,217.22Z" fill="#adaeae"/>
<circle cx="507.80" cy="187.30" r="26.8" fill="#ffffff" opacity="0.55"/>
<circle cx="507.80" cy="187.30" r="23.8" fill="#f0583f" stroke="#d34d37" stroke-width="1.1"/>
<path d="M506.9,170.9 L509.9,170.9 L509.9,198 L506.9,198 L506.9,176.4 Q504.6,179.4 501.4,181.2 L501.4,178.2 Q505.2,175.6 506.9,170.9 Z" fill="#fff"/>
<path d="M432.60,251.45 L430.79,252.11 L428.95,252.65 L427.07,253.09 L425.18,253.41 L423.26,253.61 L421.34,253.70 L419.42,253.67 L417.50,253.52 L415.59,253.25 L413.71,252.87 L411.85,252.37 L410.02,251.76 L408.24,251.04 L406.50,250.22 L404.82,249.29 L403.19,248.25 L401.64,247.12 L400.15,245.90 L398.74,244.59 L397.42,243.20 L396.18,241.72 L395.03,240.18 L393.98,238.56 L393.04,236.89 L393.04,236.89 L394.24,238.41 L395.45,239.89 L396.73,241.29 L398.06,242.62 L399.45,243.87 L400.90,245.05 L402.40,246.14 L403.95,247.15 L405.54,248.07 L407.17,248.92 L408.84,249.68 L410.54,250.35 L412.28,250.94 L414.04,251.45 L415.83,251.86 L417.64,252.19 L419.47,252.42 L421.32,252.56 L423.19,252.61 L425.06,252.56 L426.94,252.41 L428.82,252.16 L430.70,251.83 L432.60,251.45Z" fill="#adaeae"/>
<circle cx="420.90" cy="222.20" r="26.8" fill="#ffffff" opacity="0.55"/>
<circle cx="420.90" cy="222.20" r="23.8" fill="#9e78da" stroke="#8b69bf" stroke-width="1.1"/>
<g transform="translate(420.40 233.70) scale(0.84 1)"><text x="0" y="0" text-anchor="middle" font-family="Liberation Sans" font-size="41" fill="#fff" stroke="#9e78da" stroke-width="0.45">2</text></g>
<path d="M404.46,321.89 L403.50,323.55 L402.44,325.16 L401.28,326.70 L400.04,328.16 L398.70,329.54 L397.28,330.85 L395.79,332.06 L394.22,333.18 L392.59,334.20 L390.90,335.12 L389.16,335.93 L387.37,336.64 L385.54,337.23 L383.68,337.72 L381.79,338.09 L379.88,338.34 L377.96,338.47 L376.04,338.49 L374.12,338.39 L372.21,338.18 L370.31,337.85 L368.44,337.40 L366.60,336.84 L364.80,336.16 L364.80,336.16 L366.70,336.56 L368.57,336.91 L370.45,337.16 L372.33,337.33 L374.20,337.39 L376.06,337.36 L377.91,337.23 L379.75,337.01 L381.56,336.70 L383.36,336.29 L385.12,335.80 L386.86,335.23 L388.57,334.56 L390.24,333.81 L391.88,332.98 L393.48,332.07 L395.03,331.07 L396.54,329.98 L398.00,328.82 L399.40,327.58 L400.74,326.26 L402.02,324.86 L403.25,323.40 L404.46,321.89Z" fill="#adaeae"/>
<circle cx="376.70" cy="307.00" r="26.8" fill="#ffffff" opacity="0.55"/>
<circle cx="376.70" cy="307.00" r="23.8" fill="#2494dc" stroke="#1f82c1" stroke-width="1.1"/>
<g transform="translate(375.90 319.15) scale(0.84 1)"><text x="0" y="0" text-anchor="middle" font-family="Liberation Sans" font-size="41" fill="#fff" stroke="#2494dc" stroke-width="0.45">3</text></g>
<path d="M426.33,394.06 L426.67,395.95 L426.89,397.86 L426.99,399.79 L426.98,401.71 L426.84,403.63 L426.59,405.54 L426.23,407.43 L425.75,409.29 L425.16,411.12 L424.45,412.91 L423.64,414.65 L422.72,416.35 L421.71,417.98 L420.59,419.54 L419.38,421.04 L418.08,422.46 L416.70,423.80 L415.24,425.05 L413.70,426.21 L412.10,427.27 L410.43,428.24 L408.71,429.09 L406.94,429.85 L405.13,430.49 L405.13,430.49 L406.84,429.57 L408.50,428.63 L410.10,427.62 L411.65,426.54 L413.12,425.39 L414.53,424.16 L415.86,422.88 L417.12,421.53 L418.31,420.12 L419.43,418.66 L420.47,417.15 L421.43,415.59 L422.31,413.98 L423.11,412.33 L423.83,410.64 L424.47,408.92 L425.01,407.15 L425.47,405.35 L425.84,403.53 L426.12,401.68 L426.30,399.80 L426.38,397.91 L426.38,396.00 L426.33,394.06Z" fill="#adaeae"/>
<circle cx="395.50" cy="400.50" r="26.8" fill="#ffffff" opacity="0.55"/>
<circle cx="395.50" cy="400.50" r="23.8" fill="#26b4dc" stroke="#219ec1" stroke-width="1.1"/>
<g transform="translate(393.70 412.30) scale(0.84 1)"><text x="0" y="0" text-anchor="middle" font-family="Liberation Sans" font-size="41" fill="#fff" stroke="#26b4dc" stroke-width="0.45">4</text></g>
<path d="M488.98,435.05 L490.45,436.28 L491.85,437.60 L493.16,439.01 L494.39,440.49 L495.52,442.05 L496.56,443.67 L497.49,445.35 L498.32,447.09 L499.04,448.87 L499.66,450.70 L500.16,452.55 L500.54,454.44 L500.81,456.34 L500.96,458.26 L501.00,460.18 L500.92,462.11 L500.72,464.02 L500.40,465.92 L499.97,467.79 L499.42,469.64 L498.77,471.45 L498.00,473.21 L497.13,474.93 L496.16,476.59 L496.16,476.59 L496.87,474.79 L497.54,473.00 L498.12,471.19 L498.61,469.37 L498.99,467.54 L499.28,465.70 L499.48,463.85 L499.58,462.01 L499.59,460.17 L499.51,458.33 L499.33,456.51 L499.06,454.69 L498.71,452.90 L498.26,451.12 L497.72,449.36 L497.10,447.63 L496.38,445.92 L495.58,444.25 L494.69,442.62 L493.71,441.02 L492.64,439.47 L491.49,437.96 L490.26,436.50 L488.98,435.05Z" fill="#adaeae"/>
<circle cx="469.50" cy="459.80" r="26.8" fill="#ffffff" opacity="0.55"/>
<circle cx="469.50" cy="459.80" r="23.8" fill="#28cbbc" stroke="#23b2a5" stroke-width="1.1"/>
<g transform="translate(467.90 473.10) scale(0.84 1)"><text x="0" y="0" text-anchor="middle" font-family="Liberation Sans" font-size="41" fill="#fff" stroke="#28cbbc" stroke-width="0.45">5</text></g>
<path d="M561.51,425.22 L563.43,425.21 L565.35,425.33 L567.26,425.56 L569.16,425.91 L571.02,426.38 L572.86,426.95 L574.66,427.64 L576.41,428.44 L578.11,429.34 L579.75,430.34 L581.33,431.44 L582.83,432.64 L584.26,433.93 L585.61,435.30 L586.88,436.75 L588.05,438.27 L589.13,439.87 L590.10,441.52 L590.98,443.24 L591.75,445.00 L592.41,446.81 L592.95,448.65 L593.39,450.53 L593.71,452.42 L593.71,452.42 L593.10,450.59 L592.46,448.78 L591.75,447.03 L590.95,445.32 L590.07,443.67 L589.11,442.07 L588.07,440.53 L586.96,439.06 L585.79,437.64 L584.54,436.29 L583.23,435.00 L581.86,433.79 L580.43,432.64 L578.95,431.56 L577.41,430.56 L575.82,429.64 L574.18,428.79 L572.49,428.03 L570.75,427.35 L568.97,426.75 L567.16,426.25 L565.31,425.84 L563.43,425.51 L561.51,425.22Z" fill="#adaeae"/>
<circle cx="562.50" cy="456.70" r="26.8" fill="#ffffff" opacity="0.55"/>
<circle cx="562.50" cy="456.70" r="23.8" fill="#a2d939" stroke="#8ebe32" stroke-width="1.1"/>
<g transform="translate(562.60 470.30) scale(0.84 1)"><text x="0" y="0" text-anchor="middle" font-family="Liberation Sans" font-size="41" fill="#fff" stroke="#a2d939" stroke-width="0.45">6</text></g>
<path d="M611.70,369.92 L613.18,368.68 L614.72,367.53 L616.34,366.48 L618.01,365.54 L619.74,364.69 L621.51,363.95 L623.33,363.33 L625.19,362.81 L627.07,362.41 L628.97,362.12 L630.89,361.95 L632.81,361.90 L634.73,361.97 L636.65,362.15 L638.55,362.45 L640.43,362.86 L642.28,363.39 L644.09,364.03 L645.86,364.78 L647.59,365.64 L649.25,366.60 L650.86,367.66 L652.40,368.82 L653.86,370.06 L653.86,370.06 L652.21,369.05 L650.56,368.08 L648.89,367.19 L647.18,366.40 L645.44,365.70 L643.68,365.09 L641.90,364.58 L640.10,364.16 L638.29,363.83 L636.47,363.60 L634.64,363.45 L632.80,363.40 L630.97,363.44 L629.14,363.57 L627.32,363.79 L625.51,364.11 L623.70,364.52 L621.92,365.02 L620.15,365.61 L618.41,366.30 L616.70,367.08 L615.01,367.95 L613.36,368.91 L611.70,369.92Z" fill="#adaeae"/>
<circle cx="632.70" cy="393.40" r="26.8" fill="#ffffff" opacity="0.55"/>
<circle cx="632.70" cy="393.40" r="23.8" fill="#fa9e30" stroke="#dc8b2a" stroke-width="1.1"/>
<g transform="translate(633.00 406.80) scale(0.84 1)"><text x="0" y="0" text-anchor="middle" font-family="Liberation Sans" font-size="41" fill="#fff" stroke="#fa9e30" stroke-width="0.45">7</text></g>
<path d="M614.92,293.51 L615.25,291.61 L615.70,289.74 L616.26,287.90 L616.94,286.10 L617.72,284.34 L618.60,282.63 L619.59,280.98 L620.68,279.40 L621.86,277.88 L623.14,276.44 L624.50,275.08 L625.94,273.80 L627.45,272.61 L629.04,271.52 L630.68,270.53 L632.39,269.64 L634.15,268.86 L635.95,268.18 L637.79,267.62 L639.66,267.17 L641.55,266.83 L643.46,266.61 L645.39,266.51 L647.31,266.52 L647.31,266.52 L645.39,266.80 L643.51,267.12 L641.65,267.52 L639.83,268.01 L638.05,268.59 L636.31,269.26 L634.62,270.01 L632.97,270.84 L631.37,271.76 L629.83,272.75 L628.33,273.81 L626.90,274.95 L625.52,276.16 L624.20,277.44 L622.95,278.78 L621.76,280.19 L620.64,281.66 L619.60,283.19 L618.62,284.78 L617.73,286.42 L616.92,288.12 L616.19,289.87 L615.54,291.67 L614.92,293.51Z" fill="#adaeae"/>
<circle cx="646.10" cy="298.00" r="26.8" fill="#ffffff" opacity="0.55"/>
<circle cx="646.10" cy="298.00" r="23.8" fill="#fcbd2e" stroke="#dda628" stroke-width="1.1"/>
<g transform="translate(646.50 311.80) scale(0.84 1)"><text x="0" y="0" text-anchor="middle" font-family="Liberation Sans" font-size="41" fill="#fff" stroke="#fcbd2e" stroke-width="0.45">8</text></g>
<path d="M569.93,233.60 L568.96,231.93 L568.11,230.21 L567.35,228.44 L566.71,226.63 L566.18,224.78 L565.76,222.90 L565.46,221.00 L565.27,219.09 L565.20,217.16 L565.25,215.24 L565.42,213.32 L565.70,211.42 L566.10,209.54 L566.61,207.69 L567.23,205.87 L567.97,204.09 L568.81,202.36 L569.76,200.68 L570.80,199.07 L571.95,197.52 L573.18,196.05 L574.50,194.65 L575.91,193.34 L577.39,192.11 L577.39,192.11 L576.10,193.56 L574.86,195.01 L573.70,196.51 L572.62,198.05 L571.63,199.64 L570.73,201.27 L569.91,202.94 L569.19,204.64 L568.55,206.36 L568.00,208.12 L567.54,209.89 L567.17,211.69 L566.89,213.50 L566.71,215.32 L566.61,217.16 L566.60,219.00 L566.69,220.84 L566.87,222.69 L567.15,224.53 L567.53,226.37 L568.00,228.19 L568.57,230.00 L569.22,231.79 L569.93,233.60Z" fill="#adaeae"/>
<circle cx="596.70" cy="217.00" r="26.8" fill="#ffffff" opacity="0.55"/>
<circle cx="596.70" cy="217.00" r="23.8" fill="#a88278" stroke="#937269" stroke-width="1.1"/>
<g transform="translate(596.70 230.10) scale(0.84 1)"><text x="0" y="0" text-anchor="middle" font-family="Liberation Sans" font-size="41" fill="#fff" stroke="#a88278" stroke-width="0.45">9</text></g>
<text x="342.4" y="109.7" font-family="Liberation Sans" font-size="23.6" fill="#121212" stroke="#121212" stroke-width="0.3" textLength="228.5" lengthAdjust="spacingAndGlyphs">Write a business plan</text>
<text x="51.6" y="215.8" font-family="Liberation Sans" font-size="23.6" fill="#121212" stroke="#121212" stroke-width="0.3" textLength="302" lengthAdjust="spacingAndGlyphs">Choose a business structure</text>
<text x="8.4" y="304.8" font-family="Liberation Sans" font-size="23.6" fill="#121212" stroke="#121212" stroke-width="0.3" textLength="240.2" lengthAdjust="spacingAndGlyphs">Register your business</text>
<text x="27.2" y="398.1" font-family="Liberation Sans" font-size="23.6" fill="#121212" stroke="#121212" stroke-width="0.3" textLength="235.3" lengthAdjust="spacingAndGlyphs">Get a business license</text>
<text x="97.4" y="477.8" font-family="Liberation Sans" font-size="23.6" fill="#121212" stroke="#121212" stroke-width="0.3" textLength="237.3" lengthAdjust="spacingAndGlyphs">Find the right location</text>
<text x="632.6" y="215.3" font-family="Liberation Sans" font-size="23.6" fill="#121212" stroke="#121212" stroke-width="0.3" textLength="211.6" lengthAdjust="spacingAndGlyphs">Grow your business</text>
<text x="678" y="305" font-family="Liberation Sans" font-size="23.6" fill="#121212" stroke="#121212" stroke-width="0.3" textLength="251.7" lengthAdjust="spacingAndGlyphs">Launch your product or</text>
<text x="679" y="331.4" font-family="Liberation Sans" font-size="23.6" fill="#121212" stroke="#121212" stroke-width="0.3" textLength="74.6" lengthAdjust="spacingAndGlyphs">service</text>
<text x="666.8" y="398.2" font-family="Liberation Sans" font-size="23.6" fill="#121212" stroke="#121212" stroke-width="0.3" textLength="256.8" lengthAdjust="spacingAndGlyphs">Create a marketing plan</text>
<text x="600.4" y="477.3" font-family="Liberation Sans" font-size="23.6" fill="#121212" stroke="#121212" stroke-width="0.3" textLength="171.6" lengthAdjust="spacingAndGlyphs">Build your team</text>
<text x="76.6" y="37.7" font-family="Liberation Sans" font-size="32" fill="#0a0a0a" textLength="811" lengthAdjust="spacingAndGlyphs">The Basics You Need to KnowHow to grow your business</text>
</svg>
</body></html>
